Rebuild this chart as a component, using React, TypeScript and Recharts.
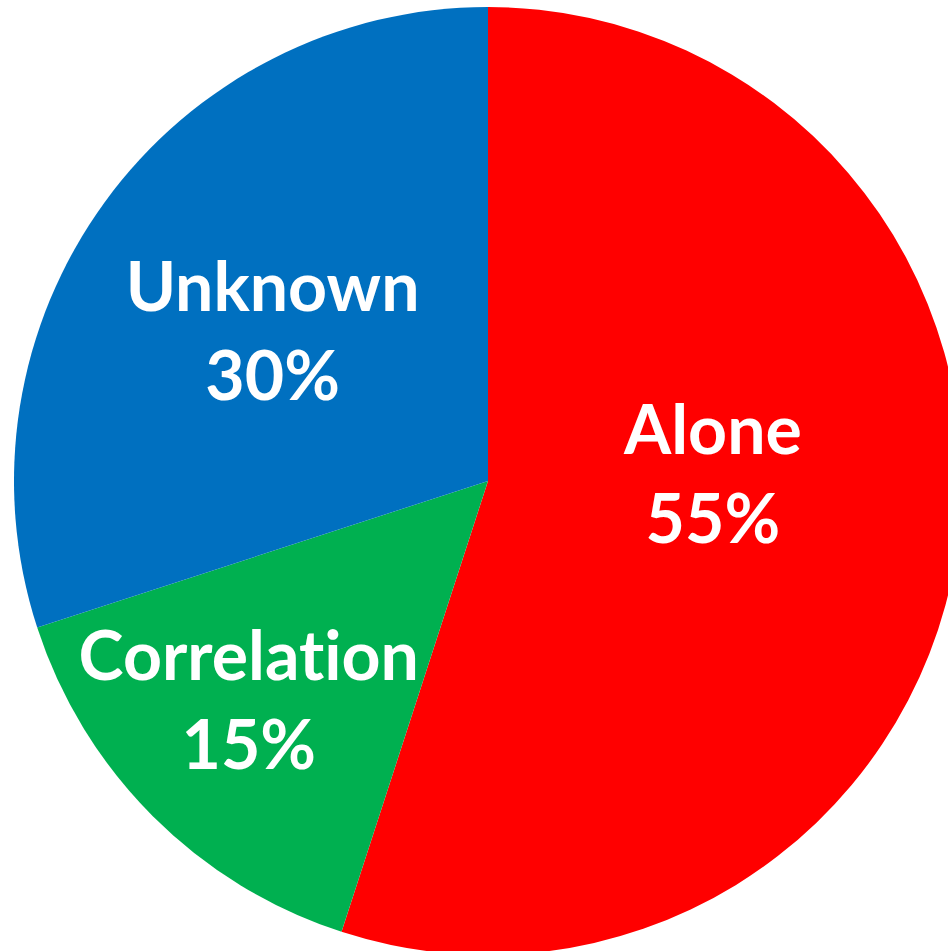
import React from "react";
import { PieChart, Pie, Cell } from "recharts";

const categories = ["Alone", "Correlation", "Unknown"];
const shares = [55, 15, 30];
const COLORS = ["#FF0000", "#00B050", "#0070C0"];

// label placement per slice: distance from centre and angle (deg, y up)
const labelRadius = [225, 325, 262];
const labelAngle = [1.5, -137.4, 145.3];

const data = categories.map((name, i) => ({ name, value: shares[i] }));

const RADIAN = Math.PI / 180;

const renderLabel = (props: any) => {
  const { cx, cy, index, name, value } = props;
  const a = labelAngle[index] * RADIAN;
  const x = cx + labelRadius[index] * Math.cos(a);
  const y = cy - labelRadius[index] * Math.sin(a);
  return (
    <text
      x={x}
      y={y}
      fill="#fff"
      textAnchor="middle"
      fontFamily="Lato, sans-serif"
      fontWeight="bold"
      fontSize={68}
      style={{ fontVariantLigatures: "none" }}
    >
      <tspan x={x} y={y - 21}>
        {name}
      </tspan>
      <tspan x={x} y={y + 68}>
        {value}%
      </tspan>
    </text>
  );
};

export default function App() {
  return (
    <div style={{ position: "absolute", left: 0, top: 0, width: 948, height: 951, background: "#fff" }}>
      <PieChart width={948} height={951} margin={{ top: 0, right: 0, bottom: 0, left: 0 }}>
        <Pie
          data={data}
          dataKey="value"
          nameKey="name"
          cx={488}
          cy={481}
          outerRadius={474}
          startAngle={90}
          endAngle={-270}
          stroke="none"
          label={renderLabel}
          labelLine={false}
          isAnimationActive={false}
        >
          {data.map((entry, index) => (
            <Cell key={`cell-${index}`} fill={COLORS[index]} />
          ))}
        </Pie>
      </PieChart>
    </div>
  );
}
